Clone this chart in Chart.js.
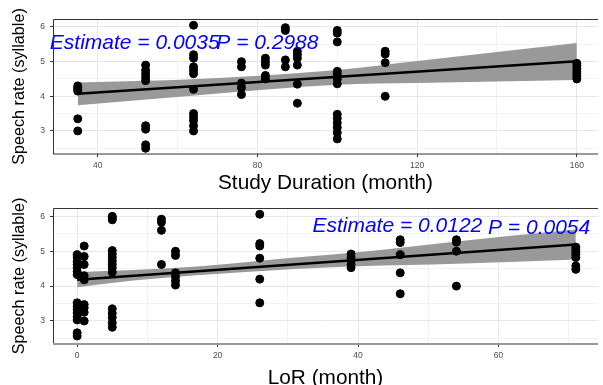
<!DOCTYPE html>
<html>
<head>
<meta charset="utf-8">
<script src="https://cdn.jsdelivr.net/npm/chart.js@4.4.0/dist/chart.umd.min.js"></script>
<style>
    html, body { margin: 0; padding: 0; background: #fff; overflow: hidden; }
    #wrap { position: relative; width: 603px; height: 385px; overflow: hidden; }
    .panel { position: absolute; left: 0; }
    #top { top: 0; }
    #bottom { top: 192px; }
</style>
</head>
<body>
<div id="wrap">
    <div class="panel" id="top"><canvas id="durationChart" width="603" height="198"></canvas></div>
    <div class="panel" id="bottom"><canvas id="lorChart" width="603" height="193"></canvas></div>
</div>
<script>
// top panel: study duration
const durationMonths = [35, 52, 64, 76, 82, 87, 90, 100, 112, 160];
const durationRates = [
    [4.3, 4.25, 4.2, 4.15, 3.35, 3.0],
    [4.9, 4.75, 4.65, 4.55, 4.45, 3.15, 3.05, 2.6, 2.5],
    [6.05, 5.2, 5.1, 4.85, 4.75, 4.65, 4.2, 3.5, 3.4, 3.3, 3.15, 3.0],
    [5.0, 4.85, 4.38, 4.25, 4.05],
    [5.1, 5.0, 4.9, 4.6, 4.5],
    [5.98, 5.9, 5.05, 4.85],
    [5.3, 5.2, 5.1, 4.9, 4.35, 3.8],
    [5.9, 5.82, 5.57, 4.72, 4.63, 4.5, 4.36, 3.48, 3.36, 3.23, 3.1, 2.95, 2.77],
    [5.3, 5.22, 4.97, 4.0],
    [4.95, 4.88, 4.8, 4.72, 4.65, 4.58, 4.5],
];
const durationFitX = [35, 160];
const durationFitY = [4.07, 5.01];
const durationBandX = [35, 65, 100, 120, 140, 160];
const durationBandLow = [3.74, 4.03, 4.33, 4.38, 4.43, 4.47];
const durationBandHigh = [4.4, 4.5, 4.76, 5.02, 5.28, 5.54];
const durationXTicks = [40, 60, 80, 100, 120, 140, 160];

// bottom panel: length of residence
const lorMonths = [0, 1, 5, 12, 14, 26, 39, 46, 54, 71];
const lorRates = [
    [4.9, 4.82, 4.7, 4.62, 4.53, 4.42, 4.33, 3.52, 3.41, 3.32, 3.23, 3.12, 3.03, 2.66, 2.57],
    [5.15, 4.85, 4.62, 4.3, 4.18, 3.47, 3.38, 3.25, 3.0],
    [6.0, 5.95, 5.9, 5.02, 4.92, 4.82, 4.72, 4.62, 4.52, 4.4, 3.35, 3.22, 3.1, 2.95, 2.82],
    [5.92, 5.83, 5.6, 4.62],
    [5.0, 4.88, 4.38, 4.27, 4.15, 4.03],
    [6.06, 5.22, 5.15, 4.8, 4.2, 3.52],
    [4.92, 4.82, 4.72, 4.62, 4.53],
    [5.33, 5.25, 4.9, 4.38, 3.78],
    [5.33, 5.26, 5.0, 4.0],
    [5.12, 5.05, 4.98, 4.9, 4.82, 4.58, 4.48],
];
const lorFitX = [0, 71];
const lorFitY = [4.18, 5.19];
const lorBandX = [0, 8, 17, 31, 40, 54, 71];
const lorBandLow = [3.97, 4.16, 4.31, 4.49, 4.57, 4.64, 4.76];
const lorBandHigh = [4.4, 4.46, 4.56, 4.82, 4.97, 5.28, 5.62];
const lorXTicks = [0, 10, 20, 30, 40, 50, 60, 70];

const rateTicks = [2.5, 3, 3.5, 4, 4.5, 5, 5.5, 6];

Chart.defaults.font.family = '"Liberation Sans", Arial, sans-serif';
Chart.defaults.animation = false;

const panelBorder = {
    id: "panelBorder",
    afterDraw(chart, args, opts) {
        const a = chart.chartArea;
        const ctx = chart.ctx;
        ctx.save();
        ctx.strokeStyle = "#333333";
        ctx.lineWidth = 1;
        ctx.beginPath();
        ctx.moveTo(a.left + 0.5, a.bottom);
        ctx.lineTo(a.left + 0.5, a.top + 0.5);
        ctx.lineTo(a.right, a.top + 0.5);
        ctx.stroke();
        ctx.strokeStyle = opts.bottomColor;
        ctx.lineWidth = opts.bottomWidth;
        ctx.beginPath();
        ctx.moveTo(a.left, a.bottom);
        ctx.lineTo(a.right, a.bottom);
        ctx.stroke();
        ctx.restore();
    },
};

const fitLabels = {
    id: "fitLabels",
    afterDatasetsDraw(chart, args, opts) {
        const ctx = chart.ctx;
        ctx.save();
        ctx.font = "italic 21px 'Liberation Sans', Arial, sans-serif";
        ctx.fillStyle = "#0000ff";
        ctx.textAlign = "left";
        ctx.textBaseline = "middle";
        opts.items.forEach(function (item) {
            const px = chart.scales.x.getPixelForValue(item.x);
            const py = chart.scales.y.getPixelForValue(item.y);
            ctx.fillText(item.text, px, py);
        });
        ctx.restore();
    },
};

function toPoints(xs, groups) {
    var pts = [];
    xs.forEach(function (x, i) {
        groups[i].forEach(function (y) {
            pts.push({ x: x, y: y });
        });
    });
    return pts;
}

function zip(xs, ys) {
    return xs.map(function (x, i) {
        return { x: x, y: ys[i] };
    });
}

function fixedTicks(values) {
    return function (scale) {
        scale.ticks = values.map(function (v) {
            return { value: v };
        });
    };
}

function buildChart(canvasId, cfg) {
    const isMajorX = function (v) {
        return v % cfg.xMajor === 0;
    };
    const isMajorY = function (v) {
        return Number.isInteger(v);
    };

    return new Chart(document.getElementById(canvasId), {
        type: "scatter",
        data: {
            datasets: [
                {
                    type: "scatter",
                    data: cfg.points,
                    backgroundColor: "#000",
                    borderColor: "#000",
                    borderWidth: 1,
                    pointRadius: 4,
                    order: 0,
                },
                {
                    type: "line",
                    data: cfg.fit,
                    borderColor: "#000",
                    borderWidth: 2.5,
                    pointRadius: 0,
                    fill: false,
                    order: 1,
                },
                {
                    type: "line",
                    data: cfg.low,
                    borderWidth: 0,
                    borderColor: "rgba(0,0,0,0)",
                    pointRadius: 0,
                    fill: false,
                    cubicInterpolationMode: "monotone",
                    order: 3,
                },
                {
                    type: "line",
                    data: cfg.high,
                    borderWidth: 0,
                    borderColor: "rgba(0,0,0,0)",
                    backgroundColor: "#999999",
                    pointRadius: 0,
                    fill: "-1",
                    cubicInterpolationMode: "monotone",
                    order: 2,
                },
            ],
        },
        options: {
            responsive: false,
            layout: { padding: { top: cfg.padTop, right: 0, left: 0, bottom: 0 } },
            plugins: {
                legend: { display: false },
                tooltip: { enabled: false },
                panelBorder: { bottomColor: cfg.bottomColor, bottomWidth: cfg.bottomWidth },
                fitLabels: { items: cfg.labels },
            },
            scales: {
                x: {
                    type: "linear",
                    min: cfg.xMin,
                    max: cfg.xMax,
                    afterBuildTicks: fixedTicks(cfg.xTicks),
                    afterFit: function (scale) {
                        scale.height = cfg.xAxisHeight;
                    },
                    border: { display: false },
                    grid: {
                        color: function (c) {
                            return isMajorX(c.tick.value) ? "#e6e6e6" : "#f2f2f2";
                        },
                        tickColor: function (c) {
                            return isMajorX(c.tick.value) ? "#333333" : "rgba(0,0,0,0)";
                        },
                        tickLength: 3,
                    },
                    ticks: {
                        color: "#4d4d4d",
                        font: { size: 8.5 },
                        padding: 4,
                        maxRotation: 0,
                        autoSkip: false,
                        callback: function (v) {
                            return isMajorX(v) ? String(v) : "";
                        },
                    },
                    title: {
                        display: true,
                        text: cfg.xTitle,
                        color: "#000",
                        font: { size: 20.8, lineHeight: 1 },
                        padding: { top: 0, bottom: cfg.xTitlePad },
                    },
                },
                y: {
                    type: "linear",
                    min: cfg.yMin,
                    max: cfg.yMax,
                    afterBuildTicks: fixedTicks(rateTicks),
                    afterFit: function (scale) {
                        scale.width = 53;
                    },
                    border: { display: false },
                    grid: {
                        color: function (c) {
                            return isMajorY(c.tick.value) ? "#e6e6e6" : "#f2f2f2";
                        },
                        tickColor: function (c) {
                            return isMajorY(c.tick.value) ? "#333333" : "rgba(0,0,0,0)";
                        },
                        tickLength: 3,
                    },
                    ticks: {
                        color: "#4d4d4d",
                        font: { size: 8.5 },
                        padding: 5,
                        autoSkip: false,
                        callback: function (v) {
                            return isMajorY(v) ? String(v) : "";
                        },
                    },
                    title: {
                        display: true,
                        text: "Speech rate (syllable)",
                        color: "#000",
                        font: { size: 16.2, lineHeight: 1 },
                        padding: { top: 11, bottom: 0 },
                    },
                },
            },
        },
        plugins: [panelBorder, fitLabels],
    });
}

$ready();

function $ready() {
    // top canvas is a little taller than its slot so the title descenders fit
    buildChart("durationChart", {
        points: toPoints(durationMonths, durationRates),
        fit: zip(durationFitX, durationFitY),
        low: zip(durationBandX, durationBandLow),
        high: zip(durationBandX, durationBandHigh),
        xMin: 28.8,
        xMax: 165.3,
        xTicks: durationXTicks,
        xMajor: 40,
        yMin: 2.335,
        yMax: 6.23,
        padTop: 19,
        xAxisHeight: 44,
        xTitlePad: 4,
        xTitle: "Study Duration (month)",
        bottomColor: "#333333",
        bottomWidth: 1,
        labels: [
            { text: "Estimate = 0.0035", x: 28.0, y: 5.52 },
            { text: "P = 0.2988", x: 69.7, y: 5.52 },
        ],
    });

    buildChart("lorChart", {
        points: toPoints(lorMonths, lorRates),
        fit: zip(lorFitX, lorFitY),
        low: zip(lorBandX, lorBandLow),
        high: zip(lorBandX, lorBandHigh),
        xMin: -3.44,
        xMax: 74.16,
        xTicks: lorXTicks,
        xMajor: 20,
        yMin: 2.34,
        yMax: 6.24,
        padTop: 16,
        xAxisHeight: 41,
        xTitlePad: -4,
        xTitle: "LoR (month)",
        bottomColor: "#999999",
        bottomWidth: 2,
        labels: [
            { text: "Estimate = 0.0122", x: 33.5, y: 5.73 },
            { text: "P = 0.0054", x: 58.5, y: 5.67 },
        ],
    });
}
</script>
</body>
</html>
